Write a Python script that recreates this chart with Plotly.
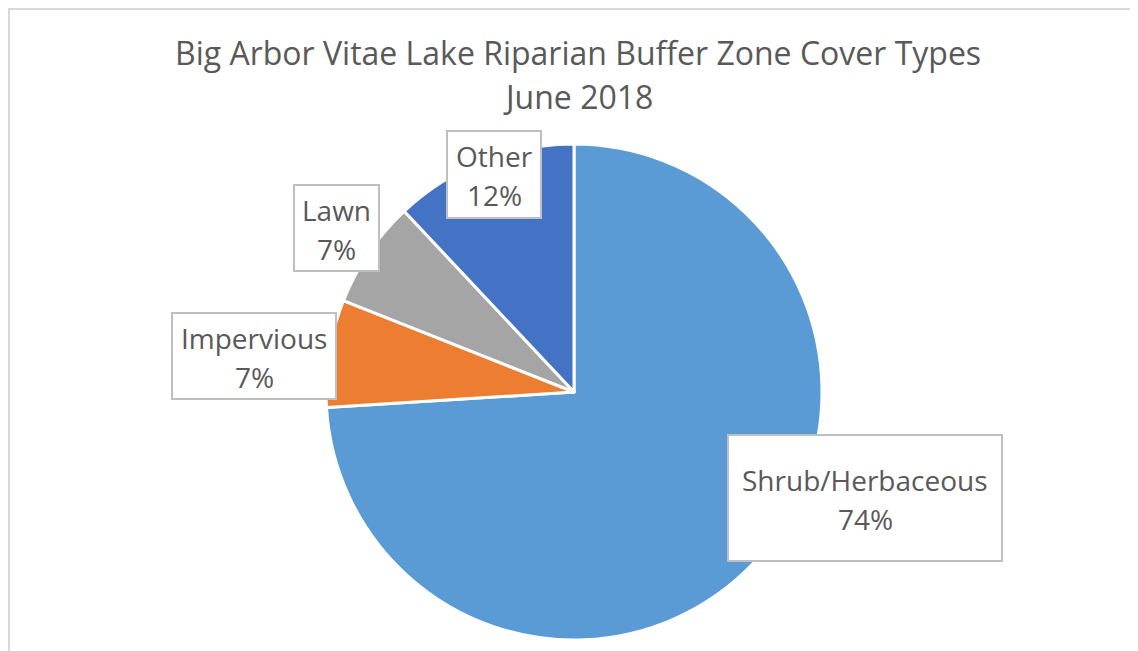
import plotly.graph_objects as go

# page is rendered with an 8px body margin, so the figure is made 8px smaller
OFF = 8
PAGE_W, PAGE_H = 1138, 651
W, H = PAGE_W - OFF, PAGE_H - OFF

# ---- data ----
labels = ["Shrub/Herbaceous", "Impervious", "Lawn", "Other"]
values = [74, 7, 7, 12]
colors = ["#5B9BD5", "#ED7D31", "#A5A5A5", "#4472C4"]
title_lines = ["Big Arbor Vitae Lake Riparian Buffer Zone Cover Types", "June 2018"]

# ---- layout (page pixel positions) ----
pie_cx, pie_cy, pie_r = 574, 392, 248
# label boxes: left, top, right, bottom (px)
boxes = [(728, 435, 1002, 561), (172, 313, 336, 399), (294, 185, 379, 271), (447, 131, 541, 218)]
title_y = [52, 97]
title_x = 577.5


def px(x):
    return (x - OFF) / W


def py(y):
    return 1 - (y - OFF) / H


TXT = "#595959"
FONT = "Open Sans"

fig = go.Figure(go.Pie(
    labels=labels,
    values=values,
    sort=False,
    direction="clockwise",
    rotation=0,
    marker=dict(colors=colors, line=dict(color="white", width=3)),
    textinfo="none",
    hoverinfo="label+percent",
    domain=dict(x=[px(pie_cx - pie_r), px(pie_cx + pie_r)],
                y=[py(pie_cy + pie_r), py(pie_cy - pie_r)]),
    showlegend=False,
))

total = sum(values)
annotations = []
shapes = [dict(type="rect", xref="paper", yref="paper",
               x0=px(OFF + 1), x1=px(PAGE_W + 20), y0=py(PAGE_H + 20), y1=py(OFF + 1),
               line=dict(color="#D9D9D9", width=2), layer="below")]

for lab, val, (x0, y0, x1, y1) in zip(labels, values, boxes):
    pct = round(100 * val / total)
    shapes.append(dict(type="rect", xref="paper", yref="paper",
                       x0=px(x0), x1=px(x1), y0=py(y1), y1=py(y0),
                       fillcolor="white", line=dict(color="#BFBFBF", width=2),
                       layer="above"))
    cx = (x0 + x1) / 2
    cy = (y0 + y1) / 2
    for txt, dy in ((lab, -18), (f"{pct}%", 21)):
        annotations.append(dict(
            x=px(cx), y=py(cy + dy), xref="paper", yref="paper",
            xanchor="center", yanchor="middle", text=txt, showarrow=False,
            font=dict(family=FONT, size=28, color=TXT),
        ))

for line, yc in zip(title_lines, title_y):
    annotations.append(dict(
        x=px(title_x), y=py(yc), xref="paper", yref="paper",
        xanchor="center", yanchor="middle", text=line, showarrow=False,
        font=dict(family=FONT, size=32, color=TXT),
    ))

fig.update_layout(
    width=W, height=H,
    margin=dict(l=0, r=0, t=0, b=0),
    paper_bgcolor="white", plot_bgcolor="white",
    annotations=annotations,
    shapes=shapes,
)

fig.write_html("out.html")
